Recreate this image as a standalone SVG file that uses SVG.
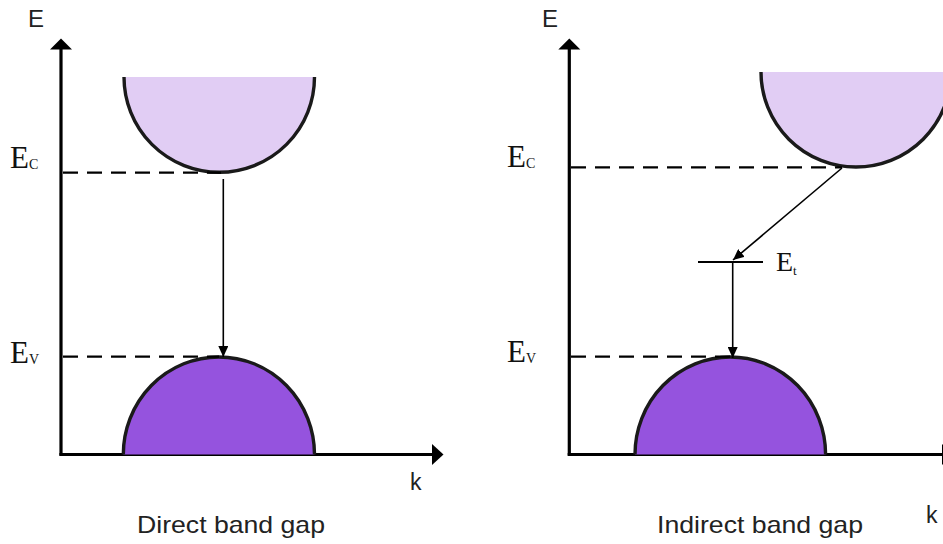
<svg xmlns="http://www.w3.org/2000/svg" width="943" height="544" viewBox="0 0 943 544">
<defs>
<style>
.axis{stroke:#000;stroke-width:3.2;fill:none}
.head{fill:#000}
.dash{stroke:#000;stroke-width:2.2;stroke-dasharray:15 9;fill:none}
.cb{fill:#e1cdf4;stroke:#1a1a1a;stroke-width:3.4}
.vb{fill:#9553de;stroke:#1a1a1a;stroke-width:3.4}
.tr{stroke:#000;stroke-width:1.6;fill:none;marker-end:url(#ah)}
.lvl{stroke:#000;stroke-width:2}
.sans{font-family:"Liberation Sans",Arial,sans-serif;fill:#222}
.serif{font-family:"Liberation Serif","Times New Roman",serif;fill:#111}
</style>
<marker id="ah" markerUnits="userSpaceOnUse" markerWidth="11" markerHeight="10" refX="11" refY="5" orient="auto">
<path d="M0,0 L11,5 L0,10 z" fill="#000"/>
</marker>
</defs>
<rect width="943" height="544" fill="#fff"/>

<!-- Left panel: direct band gap -->
<g id="left-axes">
<line class="axis" x1="61" y1="47" x2="61" y2="455.6"/>
<polygon class="head" points="50,49.5 61,38.5 72,49.5"/>
<line class="axis" x1="59.4" y1="454.5" x2="434" y2="454.5"/>
<polygon class="head" points="432,444 443.5,454.5 432,465"/>
<text class="sans" x="28" y="27" font-size="24">E</text>
<text class="sans" x="410" y="490" font-size="23">k</text>
</g>
<g id="left-conduction-band">
<path class="cb" d="M124,77 A95,95 0 0 0 314.5,77"/>
</g>
<g id="left-valence-band">
<path class="vb" d="M123.3,454.5 A95.6,97.6 0 0 1 314.5,454.5"/>
</g>
<g id="left-labels">
<text class="serif" x="10" y="168" font-size="31">E<tspan font-size="14" dy="1">C</tspan></text>
<text class="serif" x="10" y="362.5" font-size="31">E<tspan font-size="14" dy="1">V</tspan></text>
<text class="sans" x="231" y="533" font-size="24" text-anchor="middle" textLength="188" lengthAdjust="spacingAndGlyphs">Direct band gap</text>
</g>

<!-- Right panel: indirect band gap -->
<g id="right-axes">
<line class="axis" x1="569.3" y1="47" x2="569.3" y2="455.6"/>
<polygon class="head" points="558.3,49.5 569.3,38.5 580.3,49.5"/>
<line class="axis" x1="567.7" y1="454.5" x2="943" y2="454.5"/>
<polygon class="head" points="942,444 953.5,454.5 942,465"/>
<text class="sans" x="542" y="27" font-size="24">E</text>
<text class="sans" x="926" y="523" font-size="23">k</text>
</g>
<g id="right-conduction-band">
<path class="cb" d="M761,72 A95,95 0 0 0 951,72"/>
</g>
<g id="right-valence-band">
<path class="vb" d="M635,454.5 A95.3,97.6 0 0 1 825.6,454.5"/>
</g>
<g id="trap-level">
<line class="lvl" x1="698" y1="262" x2="763" y2="262"/>
<text class="serif" x="776" y="270.5" font-size="28">E<tspan font-size="13" dy="4">t</tspan></text>
</g>
<g id="right-labels">
<text class="serif" x="507" y="167" font-size="31">E<tspan font-size="14" dy="1">C</tspan></text>
<text class="serif" x="507" y="362" font-size="31">E<tspan font-size="14" dy="1">V</tspan></text>
<text class="sans" x="760" y="533" font-size="24" text-anchor="middle" textLength="206" lengthAdjust="spacingAndGlyphs">Indirect band gap</text>
</g>

<!-- Connectors -->
<g id="connectors">
<line class="dash" x1="63" y1="172.7" x2="221" y2="172.7"/>
<line class="dash" x1="63" y1="356.7" x2="219" y2="356.7"/>
<line class="tr" x1="223.3" y1="179" x2="223.3" y2="357"/>
<line class="dash" x1="571" y1="167.3" x2="842" y2="167.3"/>
<line class="dash" x1="571" y1="356.7" x2="730" y2="356.7"/>
<line class="tr" x1="842" y1="168" x2="733" y2="260"/>
<line class="tr" x1="732.7" y1="263" x2="732.7" y2="358"/>
</g>
</svg>
